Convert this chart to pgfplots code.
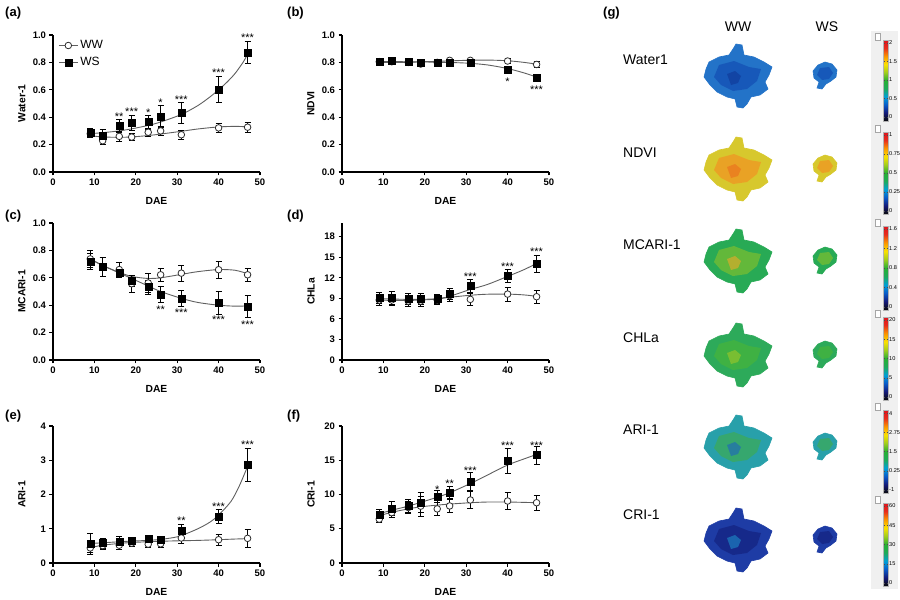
\documentclass[border=0pt]{standalone}
\usepackage{pgfplots}
\pgfplotsset{compat=1.18}
\usepackage{pgfplotstable}
\usepackage{fontspec}
\setmainfont{Liberation Sans}
\definecolor{curvegray}{RGB}{95,95,95}
\definecolor{wwedge}{RGB}{45,45,45}

\pgfplotsset{
 colormap={hyp}{rgb255=(10,10,10) rgb255=(20,25,120) rgb255=(10,90,200) rgb255=(0,160,215) rgb255=(30,170,90) rgb255=(40,175,50) rgb255=(160,205,30) rgb255=(250,225,0) rgb255=(250,150,0) rgb255=(230,45,30) rgb255=(220,20,30)},
 panel/.style={
  scale only axis, width=207pt, height=137pt, xmin=0, xmax=50, ymin=0,
  axis lines=left, axis line style={-, line width=1.2pt, black},
  xtick={0,10,20,30,40,50}, tick align=outside, major tick length=3.5pt,
  tick style={line width=1.2pt, black},
  tick label style={font=\bfseries\fontsize{9.5}{10}\selectfont},
  /pgf/number format/assume math mode=true,
  xlabel={DAE},
  every axis x label/.style={at={(axis description cs:0.5,-0.215)}, anchor=center, font=\bfseries\fontsize{10.3}{11}\selectfont},
  every axis y label/.style={at={(axis description cs:-0.15,0.5)}, anchor=center, rotate=90, font=\bfseries\fontsize{10.3}{11}\selectfont},
  clip=false,
 },
 onedec/.style={yticklabel style={/pgf/number format/.cd, fixed, fixed zerofill, precision=1}},
 ebars/.style={error bars/y dir=both, error bars/y explicit, error bars/error bar style={line width=0.65pt, black}, error bars/error mark options={rotate=90, mark size=3pt, line width=0.65pt, black}},
 wwplot/.style={only marks, mark=*, mark size=3.3pt, mark options={fill=white, draw=wwedge, line width=0.8pt}, ebars},
 wsplot/.style={only marks, mark=square*, mark size=3.5pt, mark options={fill=black, draw=black}, ebars},
 curve/.style={curvegray, line width=0.9pt, smooth, no markers, forget plot},
 leglc/.style={legend image code/.code={\draw[curvegray, line width=0.9pt] (0pt,0pt) -- (19pt,0pt); \draw[mark repeat=2,mark phase=2,##1] plot coordinates {(0pt,0pt) (9.5pt,0pt) (19pt,0pt)};}},
}
\tikzset{star/.style={font=\fontsize{11}{11}\selectfont, anchor=base, yshift=-6pt, inner sep=0pt},
 plab/.style={font=\bfseries\fontsize{13}{14}\selectfont, anchor=west, inner sep=0pt}}

\pgfplotstableread{
x ww wwe ws wse
9 0.28 0.03 0.29 0.03
12 0.228 0.025 0.267 0.045
16 0.26 0.035 0.337 0.045
19 0.255 0.025 0.362 0.055
23 0.29 0.03 0.364 0.05
26 0.30 0.03 0.405 0.08
31 0.272 0.035 0.43 0.075
40 0.322 0.03 0.60 0.095
47 0.327 0.035 0.871 0.08
}\tabA
\pgfplotstableread{
x ww wwe ws wse
9 0.805 0.01 0.807 0.01
12 0.805 0.01 0.81 0.01
16 0.80 0.01 0.805 0.01
19 0.788 0.01 0.80 0.01
23 0.80 0.01 0.797 0.01
26 0.815 0.01 0.795 0.01
31 0.815 0.01 0.80 0.01
40 0.81 0.02 0.745 0.025
47 0.785 0.02 0.69 0.025
}\tabB
\pgfplotstableread{
x ww wwe ws wse
9 0.738 0.06 0.72 0.06
12 0.68 0.07 0.68 0.07
16 0.66 0.05 0.637 0.03
19 0.557 0.06 0.58 0.04
23 0.562 0.07 0.533 0.05
26 0.622 0.05 0.48 0.06
31 0.634 0.06 0.45 0.055
40 0.659 0.06 0.419 0.085
47 0.622 0.05 0.392 0.08
}\tabC
\pgfplotstableread{
x ww wwe ws wse
9 8.76 0.8 9.1 0.8
12 8.76 0.8 9.1 0.9
16 8.6 0.7 8.9 0.8
19 8.6 0.7 8.9 0.8
23 8.76 0.7 8.95 0.7
26 9.4 0.8 9.67 0.8
31 8.85 0.9 10.83 0.9
40 9.62 1.0 12.27 1.0
47 9.24 0.9 14.05 1.3
}\tabD
\pgfplotstableread{
x ww wwe ws wse
9 0.44 0.12 0.56 0.3
12 0.51 0.12 0.58 0.15
16 0.52 0.12 0.63 0.15
19 0.58 0.1 0.66 0.1
23 0.55 0.1 0.70 0.1
26 0.56 0.1 0.68 0.1
31 0.73 0.15 0.95 0.18
40 0.68 0.15 1.36 0.2
47 0.72 0.27 2.86 0.48
}\tabE
\pgfplotstableread{
x ww wwe ws wse
9 6.4 0.5 7.0 0.8
12 7.36 0.7 8.0 1.0
16 8.1 0.9 8.33 1.0
19 8.3 1.5 8.86 1.5
23 7.9 1.0 9.69 0.9
26 8.33 1.0 10.27 0.9
31 9.2 1.2 11.9 1.3
40 9.05 1.2 14.87 1.8
47 8.8 1.1 15.74 1.3
}\tabF

\pgfplotstableread{
x y
-3 -33
3 -32
5 -22
15 -20
25 -15
33 -10
30 -2
26 5
29 12
21 18
12 20
8 27
4 31
-2 30
-4 22
-12 20
-22 15
-29 8
-35 0
-33 -8
-30 -15
-20 -20
-10 -22
-6 -28
}\wwshape
\pgfplotstableread{
x y
-20 -12
-5 -16
10 -10
22 -8
18 4
8 12
-6 14
-18 8
-25 0
}\wwinner
\pgfplotstableread{
x y
-8 -6
0 -9
6 -4
3 3
-4 5
}\wwspot
\pgfplotstableread{
x y
0 -13
7 -11
12 -5
11 2
6 6
1 9
-3 14
-8 13
-6 7
-11 3
-12 -4
-7 -10
}\wsshape
\pgfplotstableread{
x y
-5 -7
4 -8
8 -2
4 4
-3 5
-8 0
}\wsinner

\newcommand{\plant}[5]{%
 \addplot[fill=#3, draw=#3, line width=0.6pt] table[x expr=\thisrow{x}+739, y expr=\thisrow{y}+#1] {\wwshape} -- cycle;
 \addplot[fill=#4, draw=none, fill opacity=0.75] table[x expr=\thisrow{x}+739, y expr=\thisrow{y}+#1] {\wwinner} -- cycle;
 \addplot[fill=#5, draw=none, fill opacity=0.6] table[x expr=\thisrow{x}+735, y expr=\thisrow{y}+#1+3] {\wwspot} -- cycle;
 \addplot[fill=#3, draw=#3, line width=0.6pt] table[x expr=\thisrow{x}+825, y expr=\thisrow{y}+#2] {\wsshape} -- cycle;
 \addplot[fill=#4, draw=none, fill opacity=0.75] table[x expr=\thisrow{x}+825, y expr=\thisrow{y}+#2] {\wsinner} -- cycle;
}

\newcommand{\cbar}[6]{%
\begin{axis}[at={(875pt,#1pt)}, anchor=south west, hide axis, scale only axis, width=1pt, height=1pt,
 xmin=0, xmax=1, ymin=0, ymax=1,
 colormap name=hyp, point meta min=#3, point meta max=#4, colorbar,
 colorbar style={at={(parent axis.south west)}, anchor=south west, width=5pt, height=#2pt, scale only axis,
  ytick={#5}, yticklabels={#6}, yticklabel pos=right, major tick length=1.2pt,
  tick style={black!70, line width=0.3pt}, axis line style={draw=black!30, line width=0.3pt},
  yticklabel style={font=\fontsize{5.6}{6}\selectfont, inner sep=0.4pt}}]
\addplot[draw=none] coordinates {(0,0)};
\end{axis}}

\begin{document}
\begin{tikzpicture}[x=1pt,y=1pt]
\path[use as bounding box] (0,0) rectangle (900,600);

% (a)
\begin{axis}[panel, onedec, at={(53pt,428pt)}, anchor=south west, ymax=1.0, ytick={0,0.2,0.4,0.6,0.8,1.0}, ylabel={Water-1},
 legend style={at={(axis description cs:0.025,0.975)}, anchor=north west, draw=none, fill=none, font=\fontsize{12}{13}\selectfont, row sep=3pt, inner sep=0pt, cells={anchor=west}}]
\addplot[curve] coordinates {(9,0.265) (12,0.256) (16,0.253) (19,0.256) (23,0.266) (26,0.277) (31,0.297) (35,0.314) (40,0.329) (44,0.333) (47,0.330)};
\addplot[curve] coordinates {(9,0.28) (12,0.287) (16,0.30) (19,0.315) (23,0.34) (26,0.365) (31,0.42) (35,0.485) (38,0.55) (40,0.60) (42,0.655) (44,0.72) (46,0.805) (47,0.86)};
\addplot[wwplot, leglc] table[x=x, y=ww, y error=wwe] {\tabA};
\addplot[wsplot, leglc] table[x=x, y=ws, y error=wse] {\tabA};
\legend{WW,WS}
\node[star] at (axis cs:16,0.417) {**};
\node[star] at (axis cs:19,0.459) {***};
\node[star] at (axis cs:23,0.447) {*};
\node[star] at (axis cs:26,0.52) {*};
\node[star] at (axis cs:31,0.546) {***};
\node[star] at (axis cs:40,0.74) {***};
\node[star] at (axis cs:47,0.993) {***};
\end{axis}

% (b)
\begin{axis}[panel, onedec, at={(342pt,428pt)}, anchor=south west, ymax=1.0, ytick={0,0.2,0.4,0.6,0.8,1.0}, ylabel={NDVI}]
\addplot[curve] coordinates {(9,0.80) (15,0.80) (20,0.805) (25,0.81) (30,0.815) (35,0.817) (40,0.812) (44,0.80) (47,0.787)};
\addplot[curve] coordinates {(9,0.806) (15,0.805) (20,0.803) (25,0.80) (30,0.795) (35,0.782) (40,0.755) (44,0.723) (47,0.693)};
\addplot[wwplot] table[x=x, y=ww, y error=wwe] {\tabB};
\addplot[wsplot] table[x=x, y=ws, y error=wse] {\tabB};
\node[star] at (axis cs:40,0.675) {*};
\node[star] at (axis cs:47,0.615) {***};
\end{axis}

% (c)
\begin{axis}[panel, onedec, at={(53pt,240pt)}, anchor=south west, ymax=1.0, ytick={0,0.2,0.4,0.6,0.8,1.0}, ylabel={MCARI-1}]
\addplot[curve] coordinates {(9,0.74) (12,0.69) (16,0.64) (19,0.61) (23,0.595) (26,0.60) (31,0.625) (35,0.645) (40,0.66) (44,0.655) (47,0.63)};
\addplot[curve] coordinates {(9,0.735) (12,0.69) (16,0.635) (19,0.595) (23,0.54) (26,0.50) (31,0.45) (35,0.42) (40,0.40) (44,0.393) (47,0.395)};
\addplot[wwplot] table[x=x, y=ww, y error=wwe] {\tabC};
\addplot[wsplot] table[x=x, y=ws, y error=wse] {\tabC};
\node[star] at (axis cs:26,0.383) {**};
\node[star] at (axis cs:31,0.363) {***};
\node[star] at (axis cs:40,0.31) {***};
\node[star] at (axis cs:47,0.274) {***};
\end{axis}

% (d)
\begin{axis}[panel, at={(342pt,240pt)}, anchor=south west, ymax=20, ytick={0,3,6,9,12,15,18}, ylabel={CHLa}]
\addplot[curve] coordinates {(9,8.75) (12,8.7) (16,8.7) (19,8.75) (23,8.9) (26,9.15) (31,9.45) (35,9.6) (40,9.62) (44,9.5) (47,9.3)};
\addplot[curve] coordinates {(9,8.95) (12,8.9) (16,8.85) (19,8.85) (23,8.95) (26,9.3) (31,10.3) (35,11.0) (40,12.2) (44,13.2) (47,14.1)};
\addplot[wwplot] table[x=x, y=ww, y error=wwe] {\tabD};
\addplot[wsplot] table[x=x, y=ws, y error=wse] {\tabD};
\node[star] at (axis cs:31,12.46) {***};
\node[star] at (axis cs:40,13.9) {***};
\node[star] at (axis cs:47,16.07) {***};
\end{axis}

% (e)
\begin{axis}[panel, at={(53pt,37pt)}, anchor=south west, ymax=4, ytick={0,1,2,3,4}, ylabel={ARI-1}]
\addplot[curve] coordinates {(9,0.45) (12,0.52) (16,0.57) (19,0.60) (23,0.62) (26,0.635) (31,0.65) (35,0.66) (40,0.68) (44,0.70) (47,0.71)};
\addplot[curve] coordinates {(9,0.57) (12,0.59) (16,0.62) (19,0.64) (23,0.66) (26,0.69) (29,0.74) (31,0.80) (35,1.0) (38,1.2) (40,1.40) (43,1.8) (45,2.25) (47,2.82)};
\addplot[wwplot] table[x=x, y=ww, y error=wwe] {\tabE};
\addplot[wsplot] table[x=x, y=ws, y error=wse] {\tabE};
\node[star] at (axis cs:31,1.31) {**};
\node[star] at (axis cs:40,1.7) {***};
\node[star] at (axis cs:47,3.52) {***};
\end{axis}

% (f)
\begin{axis}[panel, at={(342pt,37pt)}, anchor=south west, ymax=20, ytick={0,5,10,15,20}, ylabel={CRI-1}]
\addplot[curve] coordinates {(9,6.9) (12,7.4) (16,7.9) (19,8.2) (23,8.45) (26,8.6) (31,8.8) (35,8.9) (40,8.9) (44,8.85) (47,8.8)};
\addplot[curve] coordinates {(9,7.2) (12,7.7) (16,8.3) (19,8.85) (23,9.6) (26,10.25) (31,11.6) (35,12.8) (40,14.3) (44,15.2) (47,15.85)};
\addplot[wwplot] table[x=x, y=ww, y error=wwe] {\tabF};
\addplot[wsplot] table[x=x, y=ws, y error=wse] {\tabF};
\node[star] at (axis cs:23,11.04) {*};
\node[star] at (axis cs:26,11.86) {**};
\node[star] at (axis cs:31,13.8) {***};
\node[star] at (axis cs:40,17.5) {***};
\node[star] at (axis cs:47,17.5) {***};
\end{axis}

% (g)
\begin{axis}[at={(600pt,0pt)}, anchor=south west, scale only axis, width=300pt, height=600pt,
 xmin=600, xmax=900, ymin=0, ymax=600, y dir=reverse, hide axis, clip=false]
\foreach \yt/\yb in {31/124, 123/217, 217/313, 308/403, 401/496, 494/589} {
 \addplot[fill=black!6, draw=none] coordinates {(871,\yt) (898,\yt) (898,\yb) (871,\yb)} -- cycle;
}
\foreach \yt in {40,132,226,317,410,503} {
 \pgfmathsetmacro{\ya}{\yt-7}
 \addplot[fill=white, draw=black!35, line width=0.3pt] coordinates {(875,\ya) (880,\ya) (880,\yt) (875,\yt)} -- cycle;
}
\plant{77}{75}{{rgb,255:red,35;green,115;blue,200}}{{rgb,255:red,20;green,80;blue,180}}{{rgb,255:red,15;green,55;blue,150}}
\plant{170}{168}{{rgb,255:red,215;green,200;blue,45}}{{rgb,255:red,240;green,150;blue,35}}{{rgb,255:red,235;green,110;blue,30}}
\plant{262}{260}{{rgb,255:red,40;green,170;blue,85}}{{rgb,255:red,120;green,190;blue,50}}{{rgb,255:red,235;green,170;blue,40}}
\plant{356}{354}{{rgb,255:red,45;green,170;blue,90}}{{rgb,255:red,70;green,180;blue,60}}{{rgb,255:red,160;green,200;blue,40}}
\plant{448}{446}{{rgb,255:red,40;green,160;blue,170}}{{rgb,255:red,60;green,170;blue,90}}{{rgb,255:red,30;green,100;blue,190}}
\plant{541}{539}{{rgb,255:red,30;green,60;blue,165}}{{rgb,255:red,20;green,35;blue,130}}{{rgb,255:red,30;green,140;blue,200}}
\node[font=\fontsize{14}{16}\selectfont] at (axis cs:738,27) {WW};
\node[font=\fontsize{14}{16}\selectfont] at (axis cs:827,27) {WS};
\node[anchor=west, inner sep=0pt, font=\fontsize{14}{16}\selectfont] at (axis cs:623,60) {Water1};
\node[anchor=west, inner sep=0pt, font=\fontsize{14}{16}\selectfont] at (axis cs:623,153) {NDVI};
\node[anchor=west, inner sep=0pt, font=\fontsize{14}{16}\selectfont] at (axis cs:623,245) {MCARI-1};
\node[anchor=west, inner sep=0pt, font=\fontsize{14}{16}\selectfont] at (axis cs:623,338) {CHLa};
\node[anchor=west, inner sep=0pt, font=\fontsize{14}{16}\selectfont] at (axis cs:623,430) {ARI-1};
\node[anchor=west, inner sep=0pt, font=\fontsize{14}{16}\selectfont] at (axis cs:623,515) {CRI-1};
\end{axis}

\cbar{479}{81}{-0.11}{2.08}{0,0.5,1,1.5,2}{0,0.5,1,1.5,2}
\cbar{386}{82}{-0.04}{1.04}{0,0.25,0.5,0.75,1}{0,0.25,0.5,0.75,1}
\cbar{290}{84}{-0.06}{1.66}{0,0.4,0.8,1.2,1.6}{0,0.4,0.8,1.2,1.6}
\cbar{200}{83}{-0.8}{20.8}{0,5,10,15,20}{0,5,10,15,20}
\cbar{107}{83}{-1.2}{4.2}{-1,0.25,1.5,2.75,4}{-1,0.25,1.5,2.75,4}
\cbar{14}{83}{-2.3}{62.3}{0,15,30,45,60}{0,15,30,45,60}

\node[plab] at (5,587) {(a)};
\node[plab] at (287,587) {(b)};
\node[plab] at (5,384) {(c)};
\node[plab] at (287,384) {(d)};
\node[plab] at (5,184) {(e)};
\node[plab] at (287,184) {(f)};
\node[plab] at (603,587) {(g)};
\end{tikzpicture}
\end{document}
